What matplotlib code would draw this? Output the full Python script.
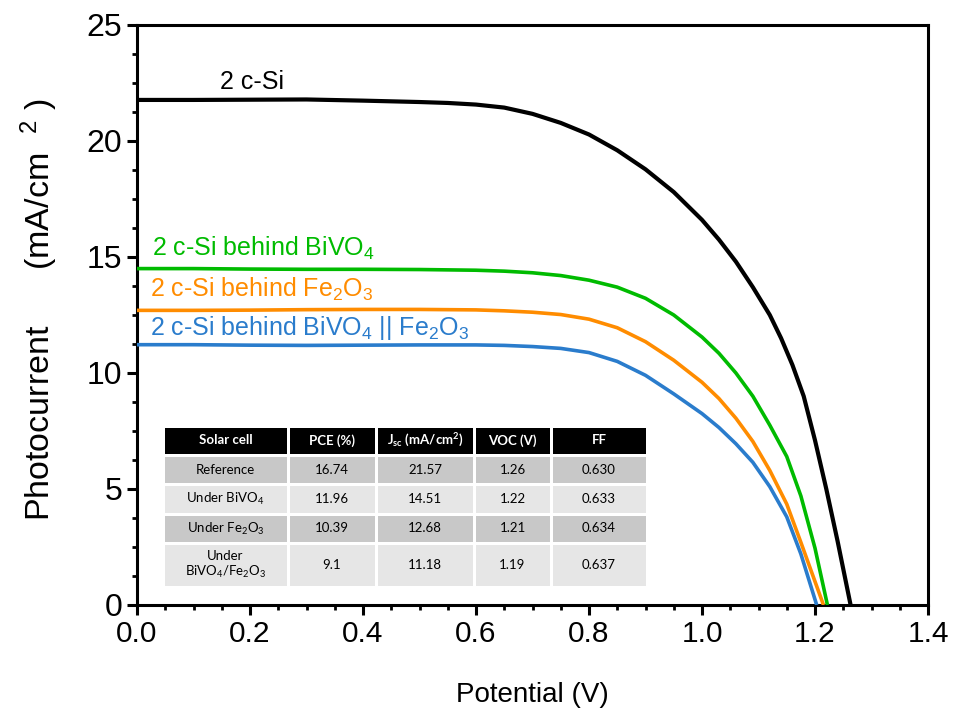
import numpy as np
import matplotlib
matplotlib.use("Agg")
import matplotlib.pyplot as plt
from matplotlib.ticker import MultipleLocator
from matplotlib.patches import Rectangle

plt.rcParams['font.family'] = ['Liberation Sans', 'DejaVu Sans']

# J-V curves (V in volts, J in mA/cm2)
v_ref = [0, 0.1, 0.2, 0.3, 0.4, 0.5, 0.55, 0.6, 0.65, 0.7, 0.75, 0.8, 0.85, 0.9, 0.95,
         1.0, 1.03, 1.06, 1.09, 1.12, 1.14, 1.16, 1.18, 1.2, 1.22, 1.24, 1.263]
j_ref = [21.77, 21.77, 21.78, 21.79, 21.74, 21.68, 21.64, 21.57, 21.44, 21.17, 20.78, 20.28,
         19.6, 18.78, 17.8, 16.6, 15.75, 14.8, 13.7, 12.5, 11.5, 10.35, 9.0, 7.1, 5.0, 2.75, 0.0]

v_bivo = [0, 0.1, 0.2, 0.3, 0.4, 0.5, 0.6, 0.65, 0.7, 0.75, 0.8, 0.85, 0.9, 0.95,
          1.0, 1.03, 1.06, 1.09, 1.12, 1.15, 1.175, 1.2, 1.222]
j_bivo = [14.50, 14.50, 14.48, 14.47, 14.47, 14.46, 14.43, 14.39, 14.32, 14.2, 14.0, 13.7,
          13.22, 12.5, 11.55, 10.85, 10.0, 9.0, 7.75, 6.4, 4.7, 2.45, 0.0]

v_fe = [0, 0.1, 0.2, 0.3, 0.4, 0.5, 0.6, 0.65, 0.7, 0.75, 0.8, 0.85, 0.9, 0.95,
        1.0, 1.03, 1.06, 1.09, 1.12, 1.15, 1.175, 1.195, 1.215]
j_fe = [12.70, 12.70, 12.71, 12.73, 12.74, 12.74, 12.72, 12.68, 12.62, 12.52, 12.32, 11.95,
        11.35, 10.55, 9.6, 8.9, 8.05, 7.05, 5.8, 4.35, 2.7, 1.35, 0.0]

v_both = [0, 0.1, 0.2, 0.3, 0.4, 0.5, 0.6, 0.65, 0.7, 0.75, 0.8, 0.85, 0.9, 0.95,
          1.0, 1.03, 1.06, 1.09, 1.12, 1.15, 1.175, 1.203]
j_both = [11.22, 11.22, 11.20, 11.19, 11.20, 11.21, 11.21, 11.19, 11.14, 11.06, 10.88, 10.5,
          9.9, 9.1, 8.25, 7.65, 6.95, 6.15, 5.1, 3.8, 2.2, 0.0]

labels = ["2 c-Si",
          r"2 c-Si behind BiVO$\mathregular{_4}$",
          r"2 c-Si behind Fe$\mathregular{_2}$O$\mathregular{_3}$",
          r"2 c-Si behind BiVO$\mathregular{_4}$ || Fe$\mathregular{_2}$O$\mathregular{_3}$"]
colors = ["black", "#00bb00", "#ff8c00", "#2a7ccc"]
label_pos = [(0.147, 22.55), (0.027, 15.35), (0.023, 13.6), (0.023, 11.95)]

# table contents
tbl_header = ["Solar cell", "PCE (%)", r"J$\mathregular{_{sc}}$ (mA/cm$\mathregular{^2}$)", "VOC (V)", "FF"]
tbl_rows = [
    ["Reference", "16.74", "21.57", "1.26", "0.630"],
    [r"Under BiVO$\mathregular{_4}$", "11.96", "14.51", "1.22", "0.633"],
    [r"Under Fe$\mathregular{_2}$O$\mathregular{_3}$", "10.39", "12.68", "1.21", "0.634"],
    ["Under\n" + r"BiVO$\mathregular{_4}$/Fe$\mathregular{_2}$O$\mathregular{_3}$", "9.1", "11.18", "1.19", "0.637"],
]

fig = plt.figure(figsize=(9.6, 7.2), dpi=100)
ax = fig.add_axes([137/960, 1 - 605/720, 791/960, 580/720])

curves = [(v_ref, j_ref), (v_bivo, j_bivo), (v_fe, j_fe), (v_both, j_both)]
for (v, j), c, lw in zip(curves, colors, [3.0, 2.6, 2.6, 2.6]):
    ax.plot(v, j, color=c, lw=lw, solid_capstyle='butt', solid_joinstyle='round', zorder=3)

for lab, c, (x, y) in zip(labels, colors, label_pos):
    ax.text(x, y, lab, color=c, fontsize=18, ha='left', va='center')

ax.set_xlim(0, 1.4)
ax.set_ylim(0, 25)
ax.xaxis.set_major_locator(MultipleLocator(0.2))
ax.xaxis.set_minor_locator(MultipleLocator(0.05))
ax.yaxis.set_major_locator(MultipleLocator(5))
ax.yaxis.set_minor_locator(MultipleLocator(1.25))
ax.xaxis.set_major_formatter(plt.FormatStrFormatter('%.1f'))
for s in ax.spines.values():
    s.set_linewidth(2.2)
ax.tick_params(which='major', direction='out', length=7, width=2.2, labelsize=23)
ax.tick_params(axis='x', which='major', labelsize=21.5)
ax.tick_params(which='minor', direction='out', length=3.5, width=2.0)
ax.set_xlabel("Potential (V)", fontsize=20, labelpad=25)
ax.set_ylabel(r"Photocurrent      (mA/cm  $\mathregular{^{2}}$ )", fontsize=24.5)
ax.yaxis.set_label_coords(-0.097, 0.509)

# summary table drawn as cells in a pixel-based inset
tax = fig.add_axes([163/960, 1 - 587/720, 484/960, 162/720])
col_w = [125, 88, 98, 77, 96]
row_h = [30, 29, 30, 29, 44]
fills = ["black", "#c8c8c8", "#e6e6e6", "#c8c8c8", "#e6e6e6"]
tax.set_xlim(0, sum(col_w))
tax.set_ylim(sum(row_h), 0)
tax.axis('off')
gap = 1.5
y0 = 0
for r, (h, fc) in enumerate(zip(row_h, fills)):
    cells = tbl_header if r == 0 else tbl_rows[r - 1]
    x0 = 0
    for w, txt in zip(col_w, cells):
        tax.add_patch(Rectangle((x0 + gap, y0 + (3 if r == 0 else gap)), w - 2 * gap,
                                h - (4.5 if r == 0 else 2 * gap), facecolor=fc, edgecolor='none'))
        tax.text(x0 + w / 2, y0 + h / 2 + (0.5 if r == 0 else 0), txt, ha='center', va='center',
                 fontsize=9.5, family=['Lato', 'DejaVu Sans'],
                 color='white' if r == 0 else 'black',
                 fontweight='bold' if r == 0 else 'normal', linespacing=1.1)
        x0 += w
    y0 += h

fig.savefig("out.png", dpi=100)
